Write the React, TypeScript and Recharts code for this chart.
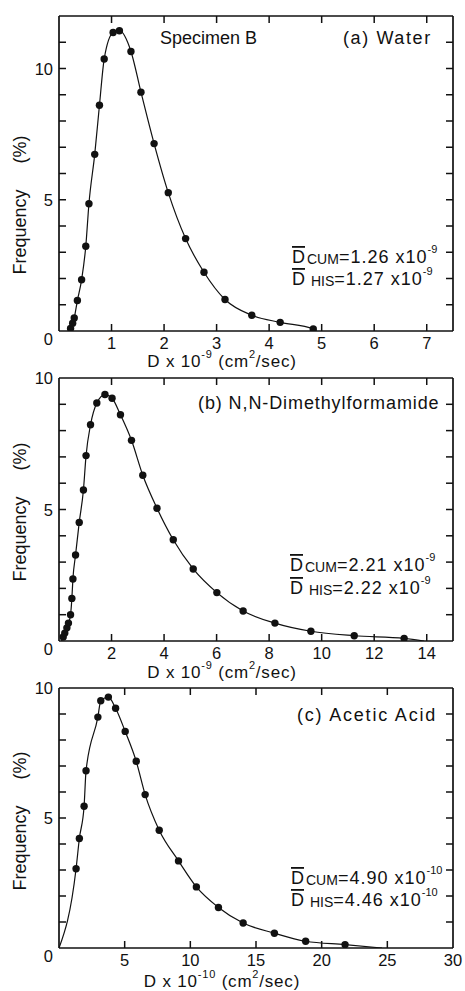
import React from 'react';
import { ComposedChart, Line, Scatter, XAxis, YAxis } from 'recharts';

// (a) Water
const waterD = [0.22, 0.26, 0.29, 0.35, 0.43, 0.51, 0.57, 0.68, 0.77, 0.86, 1.03, 1.15, 1.37, 1.56, 1.81, 2.08, 2.41, 2.76, 3.16, 3.67, 4.21, 4.84];
const waterF = [0.1, 0.3, 0.5, 1.16, 1.95, 3.23, 4.85, 6.73, 8.6, 10.36, 11.37, 11.44, 10.65, 9.1, 7.14, 5.27, 3.52, 2.24, 1.2, 0.6, 0.33, 0.08];
const waterEnds = [[0.19, 0], [4.9, 0]];
const waterXTicks = [1, 2, 3, 4, 5, 6, 7];
const waterYTicks = [0, 1, 2, 3, 4, 5, 6, 7, 8, 9, 10, 11];

// (b) N,N-Dimethylformamide
const dmfD = [0.16, 0.22, 0.3, 0.36, 0.44, 0.49, 0.53, 0.63, 0.77, 0.93, 1.03, 1.2, 1.44, 1.75, 2.02, 2.34, 2.76, 3.19, 3.73, 4.35, 5.11, 6.01, 7.01, 8.22, 9.59, 11.24, 13.14];
const dmfF = [0.15, 0.3, 0.5, 0.68, 1.0, 1.62, 2.36, 3.27, 4.51, 5.74, 7.05, 8.22, 9.05, 9.37, 9.23, 8.6, 7.63, 6.3, 5.05, 3.85, 2.74, 1.84, 1.14, 0.68, 0.37, 0.2, 0.1];
const dmfEnds = [[0.1, 0], [13.9, 0]];
const dmfXTicks = [2, 4, 6, 8, 10, 12, 14];
const dmfYTicks = [0, 1, 2, 3, 4, 5, 6, 7, 8, 9, 10];

// (c) Acetic Acid
const aceticD = [1.3, 1.55, 1.91, 2.06, 2.96, 3.18, 3.76, 4.31, 5.04, 5.88, 6.56, 7.63, 9.1, 10.46, 12.14, 14.02, 16.4, 18.78, 21.78];
const aceticF = [3.05, 4.21, 5.45, 6.82, 8.88, 9.51, 9.65, 9.22, 8.33, 7.18, 5.9, 4.53, 3.35, 2.35, 1.56, 0.96, 0.57, 0.26, 0.13];
const aceticEnds = [[0, 0], [24.6, 0]];
const aceticXTicks = [5, 10, 15, 20, 25, 30];
const aceticYTicks = [0, 1, 2, 3, 4, 5, 6, 7, 8, 9, 10];

const yLabels = [0, 5, 10];

const FONT = '"Liberation Sans", Arial, sans-serif';
const INK = '#111';

const toPoints = (xs: number[], ys: number[]) => xs.map((x, i) => ({ x, y: ys[i] }));
const toCurve = (xs: number[], ys: number[], ends: number[][]) => [
    { x: ends[0][0], y: ends[0][1] },
    ...toPoints(xs, ys),
    { x: ends[1][0], y: ends[1][1] },
];

const Dot = (p: any) => <circle cx={p.cx} cy={p.cy} r={3.7} fill={INK} />;

function BottomTick({ x, y, payload, max }: any) {
    const edge = payload.value >= max;
    return (
        <g>
            {!edge && <line x1={x} x2={x} y1={y} y2={y - 7} stroke={INK} strokeWidth={1.5} />}
            <text x={x} y={y + 12} textAnchor="middle" fontSize={16.5} fontFamily={FONT} fill={INK} dominantBaseline="central">
                {payload.value}
            </text>
        </g>
    );
}

function TopTick({ x, y, payload, max }: any) {
    if (payload.value >= max) return null;
    return <line x1={x} x2={x} y1={y} y2={y + 7} stroke={INK} strokeWidth={1.5} />;
}

function LeftTick({ x, y, payload, max }: any) {
    const v = payload.value;
    return (
        <g>
            {v > 0 && v < max && <line x1={x} x2={x + 7} y1={y} y2={y} stroke={INK} strokeWidth={1.5} />}
            {yLabels.includes(v) && (
                <text x={x - 6} y={v === 0 ? y + 8 : y} textAnchor="end" fontSize={16.5} fontFamily={FONT} fill={INK} dominantBaseline="central">
                    {v}
                </text>
            )}
        </g>
    );
}

function RightTick({ x, y, payload, max }: any) {
    const v = payload.value;
    if (v <= 0 || v >= max) return null;
    return <line x1={x} x2={x - 7} y1={y} y2={y} stroke={INK} strokeWidth={1.5} />;
}

function DBar({ x, y, sub, value, exp }: any) {
    return (
        <text x={x} y={y} fontFamily={FONT} fill={INK} dominantBaseline="central">
            <tspan fontSize={18} style={{ textDecoration: 'overline' }}>D</tspan>
            <tspan fontSize={14} dx={2} dy={2}>{sub}</tspan>
            <tspan fontSize={18} dy={-2} letterSpacing={1}>{`=${value} x10`}</tspan>
            <tspan fontSize={11} dy={-8}>{exp}</tspan>
        </text>
    );
}

function XTitle({ x, y, exp }: any) {
    return (
        <text x={x} y={y} fontFamily={FONT} fill={INK} fontSize={17} textAnchor="middle" dominantBaseline="central" letterSpacing={0.8}>
            D x 10<tspan fontSize={11} dy={-7}>{exp}</tspan>
            <tspan dy={7}>{' (cm'}</tspan>
            <tspan fontSize={11} dy={-7}>2</tspan>
            <tspan dy={7}>/sec)</tspan>
        </text>
    );
}

function YTitle({ cy }: any) {
    return (
        <text x={20} y={cy} transform={`rotate(-90 20 ${cy})`} fontFamily={FONT} fill={INK} fontSize={18} textAnchor="middle" dominantBaseline="central">
            Frequency<tspan dx={26}>(%)</tspan>
        </text>
    );
}

function Panel({ top, height, plotTop, plotBottom, xMax, xTicks, yMax, yTicks, xs, ys, ends, children }: any) {
    const frame = { stroke: INK, strokeWidth: 1.7 };
    const curve = toCurve(xs, ys, ends);
    // top/right axes are 1px thick (a 0px axis is not drawn), margins take that 1px back
    return (
        <div style={{ position: 'absolute', left: 0, top }}>
            <ComposedChart width={465} height={height} margin={{ top: plotTop - 1, right: 11, bottom: 0, left: 0 }}>
                <XAxis type="number" dataKey="x" domain={[0, xMax]} ticks={xTicks} interval={0} height={height - plotBottom}
                    tickSize={0} tickMargin={0} axisLine={frame} tick={<BottomTick max={xMax} />} allowDataOverflow />
                <XAxis xAxisId="top" orientation="top" type="number" dataKey="x" domain={[0, xMax]} ticks={xTicks} interval={0} height={1}
                    tickSize={0} tickMargin={0} axisLine={frame} tick={<TopTick max={xMax} />} allowDataOverflow />
                <YAxis type="number" domain={[0, yMax]} ticks={yTicks} interval={0} width={59}
                    tickSize={0} tickMargin={0} axisLine={frame} tick={<LeftTick max={yMax} />} allowDataOverflow />
                <YAxis yAxisId="right" orientation="right" type="number" domain={[0, yMax]} ticks={yTicks} interval={0} width={1}
                    tickSize={0} tickMargin={0} axisLine={frame} tick={<RightTick max={yMax} />} allowDataOverflow />
                <Line xAxisId="top" yAxisId="right" data={curve} dataKey="y" stroke="none" dot={false} activeDot={false} isAnimationActive={false} />
                <Line data={curve} dataKey="y" type="monotone" stroke={INK} strokeWidth={1.2} dot={false} isAnimationActive={false} />
                <Scatter data={toPoints(xs, ys)} dataKey="y" fill={INK} shape={<Dot />} isAnimationActive={false} />
                {children}
            </ComposedChart>
        </div>
    );
}

export default function App() {
    const t = { fontFamily: FONT, fill: INK, fontSize: 18, dominantBaseline: 'central' as const };
    return (
        <div style={{ position: 'absolute', left: 0, top: 0, width: 465, height: 991, background: '#fff' }}>
            <Panel top={0} height={372} plotTop={16} plotBottom={331} xMax={7.5} xTicks={waterXTicks} yMax={12} yTicks={waterYTicks}
                xs={waterD} ys={waterF} ends={waterEnds}>
                <text x={160} y={38} {...t}>Specimen B</text>
                <text x={343} y={38} {...t} letterSpacing={1.6}>(a) Water</text>
                <DBar x={292} y={257} sub="CUM" value="1.26" exp="-9" />
                <DBar x={292} y={279} sub=" HIS" value="1.27" exp="-9" />
                <XTitle x={222} y={361} exp="-9" />
                <YTitle cy={205} />
            </Panel>
            <Panel top={365} height={318} plotTop={13} plotBottom={276} xMax={15} xTicks={dmfXTicks} yMax={10} yTicks={dmfYTicks}
                xs={dmfD} ys={dmfF} ends={dmfEnds}>
                <text x={198} y={38} {...t} letterSpacing={0.9}>(b) N,N-Dimethylformamide</text>
                <DBar x={290} y={200} sub="CUM" value="2.21" exp="-9" />
                <DBar x={290} y={223} sub=" HIS" value="2.22" exp="-9" />
                <XTitle x={222} y={307} exp="-9" />
                <YTitle cy={147} />
            </Panel>
            <Panel top={676} height={315} plotTop={12} plotBottom={272} xMax={30} xTicks={aceticXTicks} yMax={10} yTicks={aceticYTicks}
                xs={aceticD} ys={aceticF} ends={aceticEnds}>
                <text x={297} y={39} {...t} letterSpacing={1.8}>(c) Acetic Acid</text>
                <DBar x={291} y={202} sub="CUM" value="4.90" exp="-10" />
                <DBar x={291} y={224} sub=" HIS" value="4.46" exp="-10" />
                <XTitle x={222} y={305} exp="-10" />
                <YTitle cy={145} />
            </Panel>
        </div>
    );
}
